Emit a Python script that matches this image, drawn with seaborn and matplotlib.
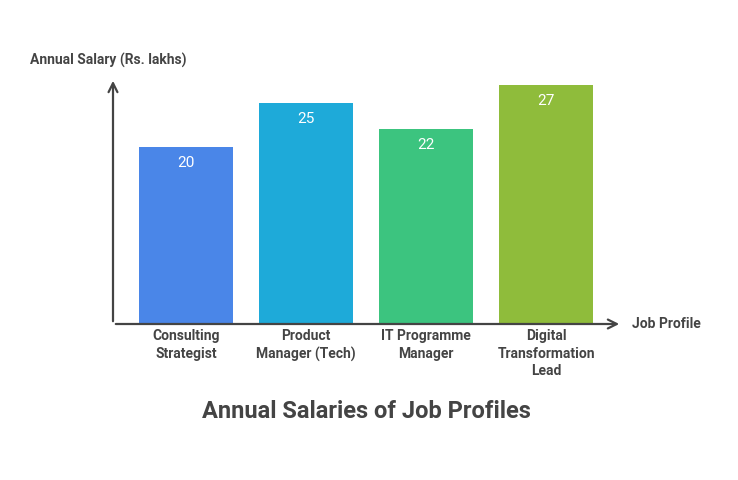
import matplotlib
matplotlib.use("Agg")
import matplotlib.pyplot as plt
import seaborn as sns
import pandas as pd

categories = ["Consulting\nStrategist", "Product\nManager (Tech)", "IT Programme\nManager", "Digital\nTransformation\nLead"]
salaries = [20, 25, 22, 27]
colors = ["#4A86E8", "#1EAAD9", "#3CC47F", "#8FBC3B"]

df = pd.DataFrame({"job": categories, "salary": salaries})
plt.rcParams["font.family"] = "Roboto"
fig = plt.figure(figsize=(7.38, 4.8), dpi=100)
ax = fig.add_axes([113/738, 1-324/480, (622-113)/738, (324-78)/480])
sns.barplot(data=df, x="job", y="salary", hue="job", palette=colors, legend=False,
            width=0.783, saturation=1, ax=ax)
ax.set_xlim(-0.608, 3.633)
ax.set_ylim(0, 27.8)
for s in ax.spines.values():
    s.set_visible(False)
ax.set_xticks([]); ax.set_yticks([])
ax.set_xlabel(""); ax.set_ylabel("")
for i, v in enumerate(salaries):
    ax.text(i, v - 1.0, str(v), ha="center", va="top", color="white", fontsize=11)
    ax.text(i, -0.6, categories[i], ha="center", va="top", color="#444444",
            fontsize=10, fontweight="bold", linespacing=1.3)
ax.annotate("", xy=(1.0, 0), xytext=(0, 0), xycoords="axes fraction",
            arrowprops=dict(arrowstyle="->", color="#444444", lw=1.6, mutation_scale=16), annotation_clip=False)
ax.annotate("", xy=(0, 1.0), xytext=(0, 0), xycoords="axes fraction",
            arrowprops=dict(arrowstyle="->", color="#444444", lw=1.6, mutation_scale=16), annotation_clip=False)
fig.text(632/738, 1-324/480, "Job Profile", ha="left", va="center", fontsize=10, fontweight="bold", color="#444444")
fig.text(30/738, 1-60/480, "Annual Salary (Rs. lakhs)", ha="left", va="center", fontsize=10, fontweight="bold", color="#444444")
fig.text(366/738, 1-412/480, "Annual Salaries of Job Profiles", ha="center", va="center", fontsize=17, fontweight="bold", color="#444444")
fig.savefig("out.png", dpi=100, facecolor="white")
